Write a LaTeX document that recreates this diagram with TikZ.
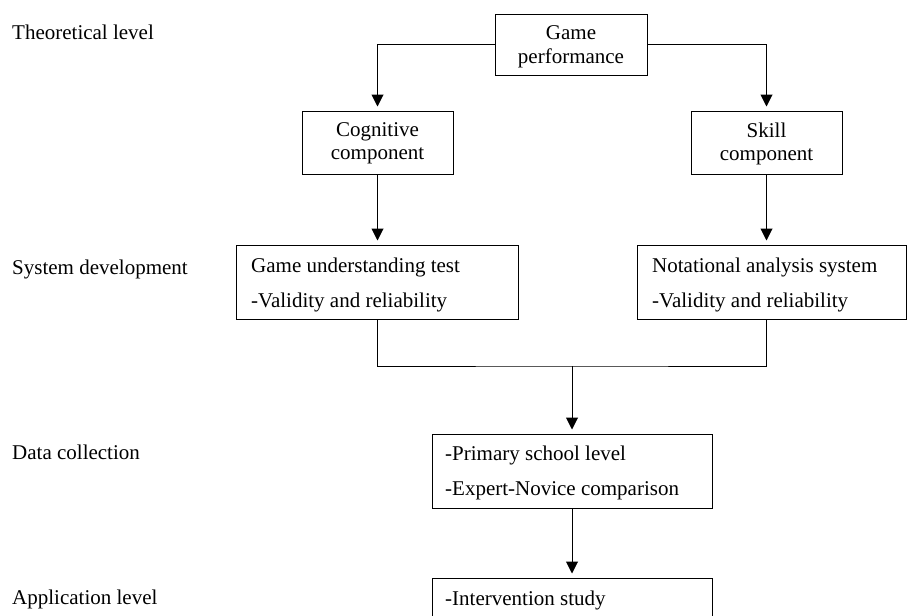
\documentclass[tikz,border=0pt]{standalone}
\usepackage{fontspec}
\setmainfont{Liberation Serif}
\usetikzlibrary{arrows.meta}
\begin{document}
\begin{tikzpicture}[x=1pt,y=-1pt,
  every node/.style={font=\fontsize{21}{25}\selectfont},
  box/.style={draw, line width=1pt, inner sep=0pt},
  txt/.style={anchor=base, inner sep=0pt},
  txtl/.style={anchor=base west, inner sep=0pt},
  conn/.style={line width=1pt},
  arr/.style={line width=1pt, -{Triangle[length=12pt,width=12pt]}, shorten >=4pt}]
\useasboundingbox (0,0) rectangle (908,616);
\clip (0,0) rectangle (908,616);
% boxes
\node[box, minimum width=152pt, minimum height=61pt] (gp) at (571,44.5) {};
\node[box, minimum width=151pt, minimum height=63pt] (cog) at (377.5,142.5) {};
\node[box, minimum width=151pt, minimum height=63pt] (skill) at (766.5,142.5) {};
\node[box, minimum width=282pt, minimum height=74pt] (gut) at (377,282) {};
\node[box, minimum width=269pt, minimum height=74pt] (nas) at (771.5,282) {};
\node[box, minimum width=280pt, minimum height=74pt] (data) at (572,471) {};
\node[box, minimum width=280pt, minimum height=74pt] (app) at (572,615) {};
% box texts
\node[txt] (gp1) at (571,39) {Game};
\node[txt] (gp2) at (571,63) {performance};
\node[txt] (cog1) at (377.5,136) {Cognitive};
\node[txt] (cog2) at (377.5,159) {component};
\node[txt] (sk1) at (766.5,137) {Skill};
\node[txt] (sk2) at (766.5,160) {component};
\node[txtl] (gut1) at (251,272) {Game understanding test};
\node[txtl] (gut2) at (251,307) {-Validity and reliability};
\node[txtl] (nas1) at (652,272) {Notational analysis system};
\node[txtl] (nas2) at (652,307) {-Validity and reliability};
\node[txtl] (data1) at (445,460) {-Primary school level};
\node[txtl] (data2) at (445,495) {-Expert-Novice comparison};
\node[txtl] (app1) at (445,605) {-Intervention study};
% level labels
\node[txtl] (l1) at (12,39) {Theoretical level};
\node[txtl] (l2) at (12,274) {System development};
\node[txtl] (l3) at (12,459) {Data collection};
\node[txtl] (l4) at (12,604) {Application level};
% connectors
\coordinate (jc) at (572,366);
\draw[arr] (gp.west) -| (cog.north);
\draw[arr] (gp.east) -| (skill.north);
\draw[arr] (cog.south) -- (cog.south |- gut.north);
\draw[arr] (skill.south) -- (skill.south |- nas.north);
\draw[conn] (cog.south |- gut.south) |- (jc) -| (skill.south |- nas.south);
\draw[arr] (jc) -- (data.north);
\draw[arr] (data.south) -- (app.north);
\end{tikzpicture}
\end{document}
